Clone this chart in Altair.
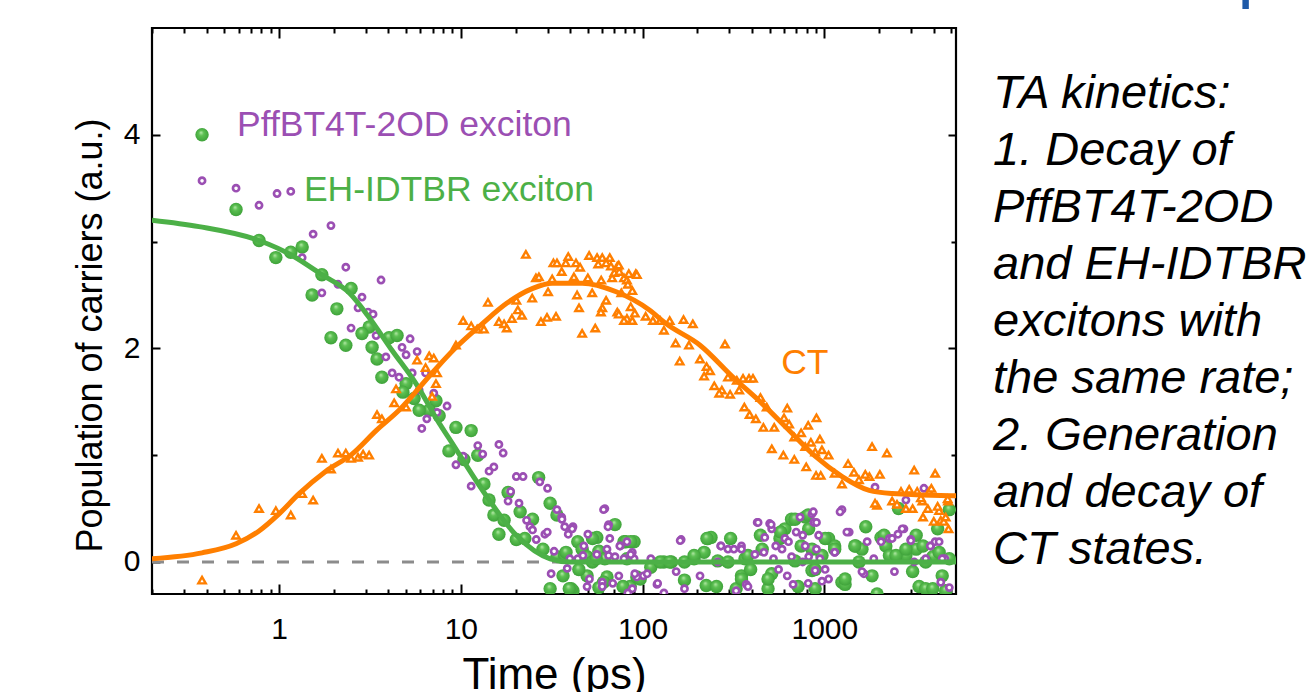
import altair as alt
import pandas as pd

# ---------------- data (time in ps, population in a.u.) ----------------
green_t = [0.183, 0.377, 0.58, 0.776, 0.96, 1.16, 1.34, 1.72, 1.52, 2.49, 2.08, 1.93, 2.33, 3.13, 2.86,
           4.03, 4.46, 3.25, 3.46, 3.68, 5.0, 5.53, 4.8, 7.3, 6.7, 7.6, 5.9, 9.4, 11.4, 8.6, 10.4, 12.4,
           13.4, 14.3, 15.2, 16.2, 17.3, 18.2, 20.2, 21.2, 22.5, 24.8, 26.8, 28.3, 31, 33.8, 31, 33.8,
           37.3, 36.5, 41.4, 44, 46.5, 49.5, 49.5, 56, 57.5, 53, 62, 63.7, 70.5, 61, 79, 82, 89.8, 85.5,
           93, 111, 131, 144, 170, 170, 192, 218, 229, 238, 224, 259, 295, 305, 327, 350, 366, 393, 455,
           490, 513, 570, 607, 660, 690, 717, 785, 820, 855, 855, 890, 970, 1055, 1140, 1250, 1300, 1490,
           1550, 1610, 1690, 1830, 1950, 2180, 2280, 2560, 2810, 3060, 3200, 3490, 3320, 3610, 3950,
           4200, 4450, 4870, 4650, 40.5, 2050,
           37.9, 44.6, 53, 55.5, 81, 86, 39.5, 57.5, 78, 97, 125, 141, 192, 226, 255, 350, 380, 445,
           490, 575, 690, 745, 815, 890, 1010, 1140, 1300, 1470, 2130, 2480, 2810, 3200, 3610, 3950,
           4280, 4870]
green_v = [3.85, 4.00, 3.30, 3.01, 2.85, 2.90, 2.95, 2.69, 2.50, 2.56, 2.37, 2.10, 2.03, 2.20, 2.14,
           2.10, 2.12, 2.01, 1.90, 1.73, 1.67, 1.53, 1.59, 1.51, 1.42, 1.37, 1.42, 1.26, 1.23, 1.04, 0.96, 1.00,
           0.73, 0.58, 0.44, 0.26, 0.39, 0.65, 0.21, 0.47, 0.22, 0.40, 0.79, 0.12, 0.55, 0.44, -0.25, 0.05,
           0.06, -0.13, -0.27, 0.19, 0.12, 0.05, -0.13, 0.23, 0.10, 0.0, 0.03, -0.14, 0.35, -0.19, 0.19, 0.03, 0.19, -0.23,
           -0.14, -0.05, 0.0, 0.0, 0.0, -0.17, 0.03, 0.09, 0.22, 0.23, -0.22, 0.01, 0.0, 0.22, -0.25, -0.13, 0.03, -0.07, 0.12,
           -0.25, -0.11, 0.22, 0.31, 0.40, 0.01, -0.23, 0.42, 0.31, 0.12, -0.08, -0.25, 0.06, 0.22, 0.15, -0.19, -0.21, 0.15,
           0.0, 0.12, 0.33, -0.13, -0.30, 0.15, 0.06, 0.50, 0.06, -0.09, 0.12, 0.15, -0.23, -0.25, 0.05,
           0.31, -0.13, 0.49, -0.27, -0.25, 0.23,
           0.09, -0.07, 0.22, 0.03, 0.19, 0.19, -0.25, -0.24, -0.23, -0.16, 0.0, 0.0, 0.06, 0.22, -0.23, -0.16, 0.06, 0.25,
           -0.16, 0.28, 0.40, 0.15, 0.44, -0.07, 0.22, 0.12, -0.16, 0.15, 0.25, 0.06, 0.12, 0.25, 0.0, -0.25,
           0.09, 0.03]

purple_t = [0.377, 0.58, 0.776, 0.975, 1.16, 1.54, 1.93, 1.34, 2.33, 3.64, 2.11, 1.72, 2.86, 2.72, 3.09,
            3.29, 2.49, 3.42, 5.26, 4.75, 5.75, 5.0, 3.87, 4.19, 4.57, 5.4, 6.4, 5.9, 7.1, 8.4, 7.4, 6.5,
            6.1, 9.4, 10.3, 12.4, 13.2, 16.2, 17.1, 11.4, 15.2, 14.3, 20.2, 22, 18.8, 18.2, 20.9, 27.2,
            30, 33.8, 35.9, 23, 24, 24.8, 26, 29, 29.9, 32.6, 37.3, 39, 41.4, 38.5, 39.8, 31.4, 44, 47,
            50, 49.5, 56, 60, 62, 63.7, 65, 66, 70.5, 74, 75.3, 82, 79, 87.8, 89.8, 93, 87.8, 101, 120,
            131, 111, 153, 163, 170, 259, 269, 295, 327, 350, 372, 380, 415, 427, 470, 500, 513, 525,
            540, 585, 607, 625, 660, 673, 735, 760, 785, 820, 855, 875, 890, 905, 930, 945, 970, 1055,
            1140, 1250, 1370, 1650, 1720, 1870, 2280, 2430, 2540, 2740, 2810, 2990, 3120, 3530, 3610,
            3850, 4070, 4370, 4600, 4870, 1220, 1330, 1900,
            36, 41, 47.5, 61, 64.5, 65, 75, 86, 90.6, 51, 60, 68.5, 83, 106, 121, 161, 207, 270, 318,
            350, 432, 465, 510, 560, 635, 700, 760, 815, 870, 905, 1010, 1140, 1610, 2050, 2360, 2680,
            2990, 3830, 4280, 4450]
purple_v = [3.57, 3.50, 3.34, 3.45, 3.47, 3.07, 3.15, 2.85, 2.76, 2.64, 2.60, 2.52, 2.48, 2.38, 2.34,
            2.32, 2.19, 2.12, 2.09, 2.01, 1.97, 1.94, 1.92, 1.77, 1.73, 1.77, 1.77, 1.61, 1.58, 1.46, 1.40, 1.34,
            1.25, 0.91, 0.99, 1.09, 1.01, 1.10, 1.02, 0.71, 0.89, 0.85, 0.80, 0.80, 0.66, 0.57, 0.55, 0.75,
            0.69, 0.49, 0.42, 0.39, 0.33, 0.30, 0.21, 0.26, 0.28, 0.10, 0.33, 0.26, 0.33, -0.06, 0.03, -0.11, 0.03, 0.06,
            0.26, -0.23, 0.07, -0.19, 0.50, 0.12, 0.35, 0.22, 0.05, -0.13, 0.15, 0.19, 0.03, 0.09, 0.03, -0.14, -0.25, -0.13, -0.21,
            -0.29, 0.03, -0.09, 0.21, -0.25, 0.0, 0.15, 0.12, -0.27, 0.15, -0.21, -0.23, 0.07, 0.37, 0.23, 0.36, 0.31, 0.03,
            0.15, 0.12, 0.22, -0.13, 0.05, -0.21, 0.42, 0.25, 0.15, 0.05, 0.45, 0.37, -0.08, 0.12, 0.25, 0.03, -0.18, -0.16,
            0.09, 0.49, 0.28, -0.11, 0.19, 0.03, 0.22, -0.09, 0.26, 0.31, 0.58, 0.21, 0.0, 0.69, 0.03,
            0.15, 0.19, -0.19, 0.03, -0.24, 0.47, 0.28, 0.70,
            0.40, 0.31, 0.15, 0.49, 0.33, 0.06, 0.15, 0.07, -0.11, -0.16, -0.23, -0.20, -0.29, -0.11, -0.20, 0.20, -0.13, 0.15, 0.12,
            0.12, 0.37, 0.09, 0.35, -0.07, 0.19, 0.28, 0.0, -0.20, 0.47, 0.37, -0.07, 0.09, -0.09, 0.19, 0.22, 0.31,
            0.20, 0.15, 0.19, 0.03]

ct_t = [0.377, 0.58, 0.776, 0.96, 1.16, 1.34, 1.54, 1.72, 1.93, 2.11, 2.33, 2.49, 2.72, 2.9, 3.13,
        3.46, 3.68, 4.3, 5.0, 4.4, 5.75, 6.7, 7.1, 6.4, 7.4, 7.3, 6.95, 9.4, 10.3, 11.4, 12.3, 13.4,
        14.1, 16.2, 17.3, 17.9, 19.1, 20.2, 20.6, 21.7, 22.8, 24.7, 25.9, 26.9, 27.6, 30.2, 29.8, 33.4,
        31.8, 32.3, 33.8, 35.9, 37.8, 39.0, 41.9, 43, 45.3, 43.6, 44.7, 46.5, 50, 50.8, 52.8, 54.9,
        56.2, 57, 59.2, 60, 63, 66, 67, 68, 69.9, 72.6, 74.4, 76.4, 79, 82, 84, 91.8, 87.8, 82, 87.8,
        90.6, 104, 63, 60, 59, 72.6, 79, 74, 93, 83, 74, 86, 114, 125, 141, 131, 168, 189, 152, 180,
        284, 160, 207, 225, 235, 218, 248, 273, 264, 303, 295, 330, 357, 385, 405, 340, 363, 388, 420,
        445, 482, 462, 514, 530, 600, 625, 595, 640, 683, 683, 745, 785, 795, 815, 843, 905, 945, 890,
        970, 900, 955, 1055, 1140, 1250, 1350, 1455, 1550, 1770, 1830, 2210, 1950, 2360, 2640, 2930,
        3120, 3240, 3460, 3770, 3880, 4070, 4280, 4790, 1900, 2510, 2810, 3060, 3400, 3490, 3710, 4000,
        4200, 4370, 4540, 4650, 4820, 4770, 1680, 2020]
ct_v = [-0.17, 0.25, 0.50, 0.48, 0.44, 0.64, 0.58, 0.97, 0.87, 1.02, 1.02, 0.97, 0.98, 1.01, 1.00,
        1.38, 1.34, 1.49, 1.45, 1.62, 1.89, 1.93, 1.91, 1.82, 1.77, 1.67, 1.55, 2.03, 2.26, 2.21, 2.18, 2.18,
        2.43, 2.25, 2.23, 2.19, 2.28, 2.45, 2.36, 2.31, 2.88, 2.47, 2.66, 2.67, 2.25, 2.53, 2.29, 2.30,
        2.65, 2.80, 2.80, 2.72, 2.80, 2.86, 2.67, 2.80, 2.76, 2.50, 2.38, 2.14, 2.66, 2.87, 2.52, 2.19,
        2.85, 2.79, 2.64, 2.85, 2.80, 2.85, 2.77, 2.66, 2.71, 2.77, 2.72, 2.52, 2.66, 2.64, 2.70, 2.70, 2.54, 2.28, 2.26,
        2.33, 2.30, 2.45, 2.38, 2.34, 2.34, 2.26, 2.78, 2.69, 2.60, 2.32, 2.39, 2.26, 2.26, 2.26, 2.17, 2.27, 2.23, 2.05, 2.03,
        2.04, 1.88, 1.90, 1.83, 1.79, 1.74, 1.65, 1.61, 1.58, 1.57, 1.73, 1.70, 1.72, 1.72, 1.72, 1.61, 1.45, 1.38, 1.34,
        1.54, 1.45, 1.26, 1.06, 1.26, 1.35, 1.44, 1.00, 1.29, 0.96, 1.17, 1.21, 1.08, 0.89, 1.28, 1.12, 1.35, 1.15, 1.03,
        1.05, 0.81, 0.81, 1.00, 0.83, 0.73, 0.92, 0.84, 0.77, 0.80, 1.08, 1.02, 0.53, 0.57, 0.66, 0.68,
        0.86, 0.66, 0.57, 0.66, 0.69, 0.83, 0.48, 0.57, 0.55, 0.54, 0.50, 0.50, 0.60, 0.42, 0.50, 0.38,
        0.52, 0.39, 0.38, 0.42, 0.31, 0.59, 0.82, 0.82]

green_fit_t = [0.2, 0.363, 0.776, 1.18, 1.72, 2.43, 3.13, 4.19, 5.67, 7.6, 8.6, 13.3, 20.2, 31, 40, 100, 1000, 5300]
green_fit_v = [3.20, 3.14, 3.01, 2.87, 2.69, 2.52, 2.29, 1.98, 1.67, 1.30, 1.16, 0.66, 0.25, 0.03, 0.0, 0.0, 0.0, 0.0]

ct_fit_t = [0.2, 0.377, 0.58, 0.776, 1.0, 1.29, 1.81, 2.52, 3.42, 4.57, 6.95, 9.42, 13.1, 17.8, 24.7,
            31.8, 46.5, 71.6, 109, 135, 207, 319, 450, 633, 890, 1253, 1766, 2364, 4930, 5300]
ct_fit_v = [0.03, 0.085, 0.17, 0.29, 0.45, 0.64, 0.85, 1.01, 1.23, 1.42, 1.77, 2.01, 2.23, 2.42, 2.56,
            2.61, 2.61, 2.53, 2.36, 2.23, 2.03, 1.72, 1.49, 1.24, 0.99, 0.80, 0.67, 0.64, 0.62, 0.62]

zero_t = [0.2, 5300]
zero_v = [0.0, 0.0]

label_text = ["PffBT4T-2OD exciton", "EH-IDTBR exciton", "CT"]
label_t = [0.587, 1.37, 579]
label_v = [4.09, 3.48, 1.86]
label_color = ["#9b4fb3", "#4cb047", "#ff7f00"]

side_text = ["TA kinetics:", "1. Decay of", "PffBT4T-2OD", "and EH-IDTBR", "excitons with",
             "the same rate;", "2. Generation", "and decay of", "CT states."]
top_title = "same time scale with a lifetime of ~10 ps"

x_major = [1, 10, 100, 1000]
x_minor = [0.2, 0.3, 0.4, 0.5, 0.6, 0.7, 0.8, 0.9, 2, 3, 4, 5, 6, 7, 8, 9, 20, 30, 40, 50, 60, 70, 80, 90,
           200, 300, 400, 500, 600, 700, 800, 900, 2000, 3000, 4000, 5000]
y_major = [0, 2, 4]
y_minor = [1, 3]

# ---------------- chart ----------------
FONT = "Liberation Sans"
W, H = 804, 566
xs = alt.Scale(type="log", domain=[0.2, 5300], nice=False)
ys = alt.Scale(domain=[-0.3, 5.0], nice=False, zero=False)

def ax(orient, values, size, labels=False, **kw):
    return alt.Axis(orient=orient, values=values, tickSize=size, offset=-size, domain=False,
                    grid=False, labels=labels, ticks=True, tickColor="black", tickWidth=2,
                    **kw)

x_bottom_major = ax("bottom", x_major, 10, labels=True, format="d", labelFont=FONT,
                    labelFontSize=30, labelColor="black", labelPadding=20, labelOverlap=False,
                    labelFlush=False, title="Time (ps)", titleFont=FONT, titleFontSize=44,
                    titleFontWeight="normal", titleColor="black", titlePadding=9)
y_left_major = ax("left", y_major, 8, labels=True, format="d", labelFont=FONT,
                  labelFontSize=30, labelColor="black", labelPadding=12, labelOverlap=False,
                  title="Population of carriers (a.u.)", titleFont=FONT, titleFontSize=36,
                  titleFontWeight="normal", titleColor="black", titlePadding=14, titleY=307)
x_bottom_minor = ax("bottom", x_minor, 5, title="")
y_left_minor = ax("left", y_minor, 5, title="")
x_top_major = ax("top", x_major, 10, title="")
x_top_minor = ax("top", x_minor, 5, title="")
y_right_major = ax("right", y_major, 8, title="")
y_right_minor = ax("right", y_minor, 5, title="")

green_df = pd.DataFrame({"t": green_t, "v": green_v})
purple_df = pd.DataFrame({"t": purple_t, "v": purple_v})
ct_df = pd.DataFrame({"t": ct_t, "v": ct_v})
gfit_df = pd.DataFrame({"t": green_fit_t, "v": green_fit_v})
cfit_df = pd.DataFrame({"t": ct_fit_t, "v": ct_fit_v})
zero_df = pd.DataFrame({"t": zero_t, "v": zero_v})
lab_df = pd.DataFrame({"t": label_t, "v": label_v, "text": label_text, "c": label_color})
one_df = pd.DataFrame({"a": [0]})

sphere = alt.RadialGradient(
    gradient="radial",
    stops=[alt.GradientStop(offset=0, color="#b6eaa9"),
           alt.GradientStop(offset=0.35, color="#5cc052"),
           alt.GradientStop(offset=1, color="#3b9f37")],
    x1=0.42, y1=0.32, r1=0, x2=0.5, y2=0.5, r2=0.55)

green_pts = alt.Chart(green_df).mark_point(
    shape="circle", filled=True, fill=sphere, size=180, strokeWidth=0, opacity=1, clip=True
).encode(x=alt.X("t:Q", scale=xs, axis=x_bottom_major), y=alt.Y("v:Q", scale=ys, axis=y_left_major))

purple_pts = alt.Chart(purple_df).mark_point(
    shape="circle", filled=True, fill="white", stroke="#9b4fb3", strokeWidth=2.7, size=38,
    opacity=1, clip=True
).encode(x=alt.X("t:Q", scale=xs, axis=x_bottom_minor), y=alt.Y("v:Q", scale=ys, axis=y_left_minor))

ct_pts = alt.Chart(ct_df).mark_point(
    shape="triangle-up", filled=True, fill="white", stroke="#ff7f00", strokeWidth=2.4, size=55,
    opacity=1, clip=True
).encode(x=alt.X("t:Q", scale=xs, axis=x_top_major), y=alt.Y("v:Q", scale=ys, axis=y_right_major))

zero_line = alt.Chart(zero_df).mark_line(
    color="#8c8c8c", strokeWidth=3, strokeDash=[12, 13], clip=True
).encode(x=alt.X("t:Q", scale=xs, axis=x_top_minor), y=alt.Y("v:Q", scale=ys, axis=y_right_minor))

green_fit = alt.Chart(gfit_df).mark_line(
    color="#4cb047", strokeWidth=5, interpolate="monotone", clip=True
).encode(x=alt.X("t:Q", scale=xs, axis=None), y=alt.Y("v:Q", scale=ys, axis=None))

ct_fit = alt.Chart(cfit_df).mark_line(
    color="#ff7f00", strokeWidth=5, interpolate="monotone", clip=True
).encode(x=alt.X("t:Q", scale=xs, axis=None), y=alt.Y("v:Q", scale=ys, axis=None))

labels = alt.Chart(lab_df).mark_text(
    align="left", baseline="middle", font=FONT, fontSize=35.5
).encode(x=alt.X("t:Q", scale=xs, axis=None), y=alt.Y("v:Q", scale=ys, axis=None),
         text="text:N", color=alt.Color("c:N", scale=None))

side = alt.Chart(one_df).mark_text(
    text=side_text, align="left", baseline="alphabetic", font=FONT, fontSize=47,
    fontStyle="italic", lineHeight=57, color="black"
).encode(x=alt.value(841), y=alt.value(80))

top = alt.Chart(one_df).mark_text(
    text=top_title, align="left", baseline="alphabetic", font=FONT, fontSize=73, color="#1f5aa8"
).encode(x=alt.value(-150), y=alt.value(-34))

chart = alt.layer(
    green_pts, purple_pts, ct_pts, zero_line, green_fit, ct_fit, labels, side, top
).resolve_axis(x="independent", y="independent").properties(
    width=W, height=H,
    autosize=alt.AutoSizeParams(type="none"),
    padding={"left": 152, "top": 28, "right": 360, "bottom": 98},
    background="white",
).configure_view(stroke="black", strokeWidth=2.2)

chart.save("out.html", embed_options={"renderer": "svg", "actions": False})
